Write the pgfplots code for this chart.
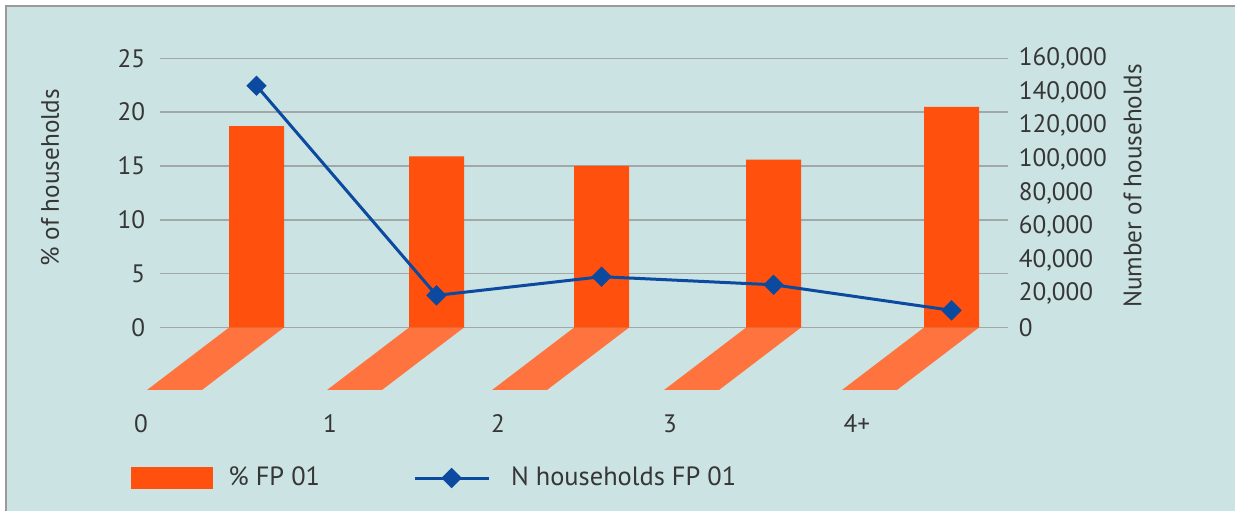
\documentclass[border=0pt]{standalone}
\usepackage{fontspec}
\setmainfont{PT Sans}
\usepackage{pgfplots}
\usepackage{pgfplotstable}
\pgfplotsset{compat=1.18}

\definecolor{bgc}{HTML}{CBE3E3}
\definecolor{framec}{HTML}{9A9A9A}
\definecolor{gridc}{HTML}{A2A8A8}
\definecolor{barc}{HTML}{FF500D}
\definecolor{shadowc}{HTML}{FF743E}
\definecolor{linec}{HTML}{0B4A9E}
\definecolor{textc}{HTML}{363636}

\newcommand\chartfont{\fontsize{12.6pt}{15pt}\selectfont}
\newcommand\legendfont{\fontsize{13.2pt}{16pt}\selectfont}

% household size position, share (%) and number of households
\pgfplotstableread{
pos    pct    n
0      18.7   143700
1.036  15.9   19100
1.986  15.0   30200
2.976  15.6   25400
4.0    20.5   10200
}\fpdata

\pgfplotsset{
  every tick label/.append style={font=\chartfont, text=textc},
  every axis label/.append style={font=\chartfont, text=textc},
  frame/.style={
    at={(80pt,-163.75pt)}, anchor=south west,
    scale only axis, width=424pt, height=134.6pt,
    xmin=-0.5554, xmax=4.3252,
    axis line style={draw=none},
    tick style={draw=none},
    /pgf/number format/assume math mode=true,
  },
  nline/.style={linec, line width=1.5pt, mark=square*, mark size=2.85pt,
    mark options={rotate=45, solid}},
  nlegend/.style={legend image code/.code={
    \path (-44.5pt,0pt) (45.5pt,0pt);
    \draw[mark repeat=2, mark phase=2, ##1] plot coordinates {(0pt,0pt) (18.5pt,0pt) (37pt,0pt)};}},
  barlegend/.style={legend image code/.code={
    \path (46.5pt,0pt);
    \fill[barc] (0pt,-5.5pt) rectangle (41pt,5.5pt);}},
}

\begin{document}
\chartfont
\begin{tikzpicture}
\fill[white] (0,0) rectangle (617.5pt,-255.5pt);
\fill[bgc] (2.85pt,-2.85pt) rectangle (617.5pt,-255.5pt);
\draw[framec, line width=1pt] (2.85pt,-255.5pt) -- (2.85pt,-2.85pt) -- (617.5pt,-2.85pt);

\begin{axis}[
  frame,
  ymin=0, ymax=25,
  clip=false,
  ytick={0,5,...,25},
  ymajorgrids,
  grid style={gridc, line width=0.75pt},
  yticklabel style={xshift=-3pt},
  % label anchors sit 0.2 units right of where the text is drawn
  xtick={-0.465,0.623,1.590,2.580,3.656},
  xticklabels={0,1,2,3,4+},
  xticklabel style={anchor=center, xshift=-17.4pt, yshift=-48pt},
  ylabel={\% of households},
  ylabel style={at={(axis description cs:-0.1297,0.557)}, anchor=center},
  legend style={
    at={(axis description cs:-0.0342,-0.559)}, anchor=west,
    draw=none, fill=none, inner sep=0pt,
    legend columns=2, font=\legendfont, text=textc,
    legend cell align=left,
  },
]
% floor shadows of the bars
\addplot[forget plot, fill=shadowc, draw=none] coordinates {(-0.158,0) (0.158,0) (-0.314,-5.8) (-0.630,-5.8)} -- cycle;
\addplot[forget plot, fill=shadowc, draw=none] coordinates {(0.878,0) (1.194,0) (0.722,-5.8) (0.406,-5.8)} -- cycle;
\addplot[forget plot, fill=shadowc, draw=none] coordinates {(1.828,0) (2.144,0) (1.672,-5.8) (1.356,-5.8)} -- cycle;
\addplot[forget plot, fill=shadowc, draw=none] coordinates {(2.818,0) (3.134,0) (2.662,-5.8) (2.346,-5.8)} -- cycle;
\addplot[forget plot, fill=shadowc, draw=none] coordinates {(3.842,0) (4.158,0) (3.686,-5.8) (3.370,-5.8)} -- cycle;

\addplot[ybar, bar width=27.5pt, fill=barc, draw=none, barlegend]
  table[x=pos, y=pct] {\fpdata};
\addlegendentry{\% FP 01}

\addlegendimage{nline, nlegend}
\addlegendentry{N households FP 01}
\end{axis}

\begin{axis}[
  frame,
  ymin=0, ymax=160000,
  axis x line=none,
  axis y line*=right,
  xtick=\empty,
  ytick={0,20000,...,160000},
  scaled y ticks=false,
  yticklabel={\pgfmathprintnumber[fixed, precision=0, 1000 sep={,}]{\tick}},
  yticklabel style={xshift=1pt},
  ylabel={Number of households},
  ylabel style={at={(axis description cs:1.147,0.526)}, anchor=center},
]
\addplot[nline] table[x=pos, y=n] {\fpdata};
\end{axis}

\pgfresetboundingbox
\useasboundingbox (0,0) rectangle (617.5pt,-255.5pt);
\end{tikzpicture}
\end{document}
